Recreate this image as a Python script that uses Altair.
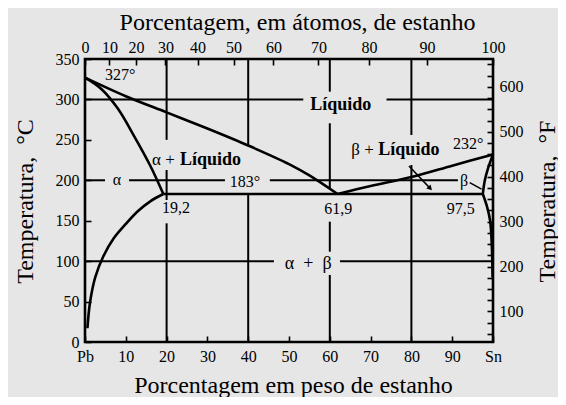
import altair as alt
import pandas as pd

# ---------------- data (wt% Sn, temperature in degC) ----------------
liq_left_w = [0, 10, 20, 30, 40, 50, 55, 61.9]
liq_left_T = [327, 304, 284, 264, 243, 220, 206, 183]
liq_right_w = [61.9, 70, 80, 90, 100]
liq_right_T = [183, 193, 204, 218, 232]
sol_a_w = [0, 4, 8, 12, 16, 19.2]
sol_a_T = [327, 313, 289, 255, 218, 183]
solv_a_w = [19.2, 16, 13, 10, 7, 4.5, 2.5, 1.2, 0.6]
solv_a_T = [183, 174, 162, 146, 128, 106, 80, 48, 17]
sol_b_w = [100, 98.8, 98.0, 97.5]
sol_b_T = [232, 215, 200, 183]
solv_b_w = [97.5, 98.5, 99.3, 99.7, 99.9]
solv_b_T = [183, 168, 150, 120, 80]
eut_w = [19.2, 97.5]
eut_T = [183, 183]

# grid segments with gaps for the labels
grid_w1 = [0, 73.9, 0, 10.8, 45.3, 0, 62.5, 20, 20, 20, 40, 40, 60, 60, 60, 60, 80, 80]
grid_w2 = [53.5, 100, 4.9, 34.3, 91.4, 46.3, 100, 20, 20, 20, 40, 40, 60, 60, 60, 60, 80, 80]
grid_T1 = [300, 300, 200, 200, 200, 100, 100, 350, 212.7, 146.8, 350, 183, 350, 270.5, 148.8, 82.9, 350, 218.9]
grid_T2 = [300, 300, 200, 200, 200, 100, 100, 250, 175.6, 0, 243, 0, 309.6, 189, 111.7, 0, 256, 0]

# leader lines
lead_w1 = [79.4, 94.3]
lead_T1 = [217.7, 197]
lead_w2 = [84.6, 97.2]
lead_T2 = [190, 189]

# labels
reg_text = ["327°", "183°", "19,2", "61,9", "97,5", "232°", "α", "β"]
reg_w = [8.6, 39.2, 22.3, 62.1, 92.1, 93.9, 7.8, 92.9]
reg_T = [330, 198, 166, 165, 165, 245, 200, 199]
pre_text = ["α +", "β +"]
pre_w = [22.0, 70.8]
pre_T = [225, 237]
bold_text = ["Líquido", "Líquido"]
bold_w = [23.3, 71.9]
bold_T = [225, 237]
liq_text = ["Líquido"]
liq_w = [62.7]
liq_T = [293]
ab_text = ["α\u2002+\u2002β"]
ab_w = [54.7]
ab_T = [96.5]

# axes
bottom_ticks = [0, 10, 20, 30, 40, 50, 60, 70, 80, 90, 100]
top_tick_w = [0, 6.0, 12.5, 19.7, 27.6, 36.4, 46.2, 57.2, 69.6, 83.8, 100]
top_tick_lab = ["0", "10", "20", "30", "40", "50", "60", "70", "80", "90", "100"]
left_ticks = [0, 50, 100, 150, 200, 250, 300, 350]
right_ticks = list(range(50, 651, 25))

FONT = "Liberation Serif"

# ---------------- tables ----------------
rows = []
for name, ws, ts in [("liqL", liq_left_w, liq_left_T), ("liqR", liq_right_w, liq_right_T),
                     ("solA", sol_a_w, sol_a_T), ("solvA", solv_a_w, solv_a_T),
                     ("solB", sol_b_w, sol_b_T), ("solvB", solv_b_w, solv_b_T),
                     ("eut", eut_w, eut_T)]:
    for i, (w, t) in enumerate(zip(ws, ts)):
        rows.append({"curve": name, "idx": i, "w": w, "T": t})
curves = pd.DataFrame(rows)
grid = pd.DataFrame({"w1": grid_w1, "w2": grid_w2, "T1": grid_T1, "T2": grid_T2})
leads = pd.DataFrame({"w1": lead_w1, "w2": lead_w2, "T1": lead_T1, "T2": lead_T2})
arrow = pd.DataFrame({"w": [lead_w2[0]], "T": [lead_T2[0]]})

xs = alt.Scale(domain=[0, 100], nice=False, zero=False)
ys = alt.Scale(domain=[0, 350], nice=False, zero=False)
fs = alt.Scale(domain=[32, 662], nice=False, zero=False)

bottom_axis = alt.Axis(
    orient="bottom", values=bottom_ticks, offset=-6, tickSize=6, labelPadding=6,
    labelExpr="datum.value == 0 ? 'Pb' : (datum.value == 100 ? 'Sn' : datum.label)",
    labelFlush=False, labelOverlap=False,
    title="Porcentagem em peso de estanho", titleX=208, titleY=56,
    titleBaseline="alphabetic", titleAlign="center")
left_axis = alt.Axis(
    orient="left", values=left_ticks, offset=-6, tickSize=6, labelPadding=6,
    labelFlush=False, labelOverlap=False,
    title="Temperatura,\u2002°C", titleAngle=270, titleX=-66, titleY=142,
    titleBaseline="middle", titleAlign="center")
top_axis = alt.Axis(
    orient="top", values=top_tick_w, offset=-6, tickSize=6, labelPadding=4,
    labelExpr="%s[indexof(%s, datum.value)]" % (str(top_tick_lab), str(top_tick_w)),
    labelFlush=False, labelOverlap=False,
    title="Porcentagem, em átomos, de estanho", titleX=212, titleY=-36,
    titleBaseline="alphabetic", titleAlign="center")
right_axis = alt.Axis(
    orient="right", values=right_ticks, offset=-6, tickSize=6, labelPadding=6,
    labelExpr="datum.value % 100 == 0 ? datum.label : ''",
    labelFlush=False, labelOverlap=False,
    title="Temperatura,\u2002°F", titleAngle=270, titleX=60, titleY=142,
    titleBaseline="middle", titleAlign="center")

grid_layer = alt.Chart(grid).mark_rule(color="black", strokeWidth=2).encode(
    x=alt.X("w1:Q", scale=xs, axis=None), x2="w2:Q",
    y=alt.Y("T1:Q", scale=ys, axis=None), y2="T2:Q")

curve_layer = alt.Chart(curves).mark_line(
    color="black", strokeWidth=2.6, interpolate="catmull-rom").encode(
    x=alt.X("w:Q", scale=xs, axis=bottom_axis),
    y=alt.Y("T:Q", scale=ys, axis=left_axis),
    detail="curve:N", order="idx:Q")

lead_layer = alt.Chart(leads).mark_rule(color="black", strokeWidth=1.5).encode(
    x=alt.X("w1:Q", scale=xs, axis=None), x2="w2:Q",
    y=alt.Y("T1:Q", scale=ys, axis=None), y2="T2:Q")

arrow_layer = alt.Chart(arrow).mark_point(
    shape="triangle-up", filled=True, color="black", opacity=1, size=35, angle=137).encode(
    x=alt.X("w:Q", scale=xs, axis=None), y=alt.Y("T:Q", scale=ys, axis=None))


def text_layer(texts, ws, ts, size, weight="normal", align="center"):
    df = pd.DataFrame({"t": texts, "w": ws, "T": ts})
    return alt.Chart(df).mark_text(
        font=FONT, fontSize=size, fontWeight=weight, color="black",
        align=align, baseline="middle").encode(
        x=alt.X("w:Q", scale=xs, axis=None), y=alt.Y("T:Q", scale=ys, axis=None),
        text="t:N")


reg_layer = text_layer(reg_text, reg_w, reg_T, 16)
pre_layer = text_layer(pre_text, pre_w, pre_T, 17, align="right")
bold_layer = text_layer(bold_text, bold_w, bold_T, 18, weight="bold", align="left")
liq_layer = text_layer(liq_text, liq_w, liq_T, 18, weight="bold")
ab_layer = text_layer(ab_text, ab_w, ab_T, 18)

top_layer = alt.Chart(pd.DataFrame({"w": top_tick_w})).mark_point(opacity=0).encode(
    x=alt.X("w:Q", scale=xs, axis=top_axis))

right_layer = alt.Chart(pd.DataFrame({"F": right_ticks})).mark_point(opacity=0).encode(
    y=alt.Y("F:Q", scale=fs, axis=right_axis))

chart = alt.layer(
    grid_layer, curve_layer, lead_layer, arrow_layer,
    reg_layer, pre_layer, bold_layer, liq_layer, ab_layer,
    top_layer, right_layer
).resolve_scale(y="independent").resolve_axis(x="independent", y="independent").properties(
    width=408, height=283, autosize="none",
    padding={"left": 77, "top": 51, "right": 65, "bottom": 55},
    background="#e6e6e6"
).configure_view(stroke="black", strokeWidth=2.6).configure_axis(
    labelFont=FONT, titleFont=FONT, labelFontSize=16, titleFontSize=24,
    titleFontWeight="normal", labelColor="black", titleColor="black",
    tickColor="black", tickWidth=1.6, domain=False, grid=False)

chart.save("out.html", embed_options={"renderer": "svg", "actions": False})
